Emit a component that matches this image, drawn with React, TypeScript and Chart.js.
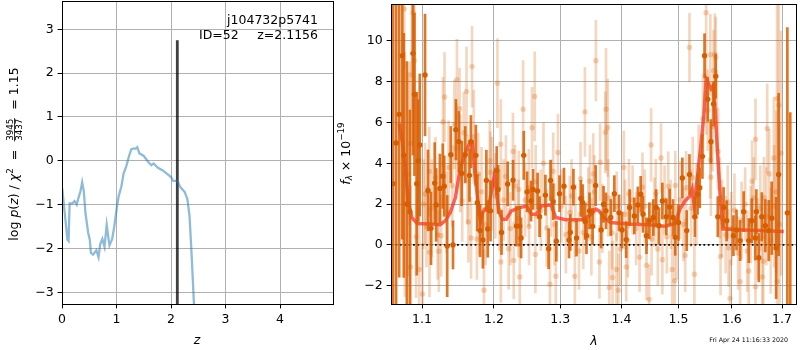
import React, { useEffect, useRef } from "react";
import { Chart, registerables } from "chart.js";

Chart.register(...registerables);

const FONT = '"DejaVu Sans", sans-serif';

// ---------------- left panel: log p(z)
const zGrid = [0.0, 0.006, 0.05, 0.10, 0.12, 0.14, 0.19, 0.23, 0.27, 0.31, 0.34, 0.37, 0.40, 0.43, 0.48, 0.51, 0.53, 0.57, 0.63, 0.67, 0.70, 0.74, 0.78, 0.82, 0.87, 0.92, 0.96, 1.01, 1.04, 1.09, 1.13, 1.18, 1.23, 1.27, 1.31, 1.35, 1.38, 1.42, 1.50, 1.58, 1.64, 1.68, 1.76, 1.85, 1.94, 2.00, 2.04, 2.12, 2.17, 2.25, 2.30, 2.34, 2.37, 2.40, 2.42, 2.44];
const logPz = [-0.63, -0.65, -1.19, -1.80, -1.83, -0.97, -0.97, -0.92, -1.00, -0.81, -0.69, -0.49, -0.69, -1.19, -1.64, -1.80, -2.10, -2.14, -2.04, -2.20, -1.91, -1.78, -1.96, -1.46, -1.93, -1.79, -1.49, -1.03, -0.81, -0.58, -0.29, -0.12, 0.11, 0.26, 0.28, 0.28, 0.31, 0.17, 0.11, -0.02, -0.10, -0.06, -0.16, -0.22, -0.31, -0.37, -0.46, -0.46, -0.60, -0.71, -0.87, -1.26, -1.95, -2.71, -3.24, -4.0];
const zBest = 2.1156;
const zLineTop = 2.75;
const zTicks = [0, 1, 2, 3, 4];
const pzTicks = [-3, -2, -1, 0, 1, 2, 3];
const zMin = 0, zMax = 4.972, pzMin = -3.267, pzMax = 3.646;
const objName = "j104732p5741";
const idText = "ID=52";
const zText = "z=2.1156";

// ---------------- right panel: spectrum
const waveTicks = [1.1, 1.2, 1.3, 1.4, 1.5, 1.6, 1.7];
const fluxTicks = [-2, 0, 2, 4, 6, 8, 10];
const waveMin = 1.0595, waveMax = 1.729, fluxMin = -2.898, fluxMax = 11.81;

const darkWave = [1.062, 1.066, 1.070, 1.074, 1.076, 1.080, 1.084, 1.088, 1.090, 1.093, 1.095, 1.097, 1.104, 1.108, 1.112, 1.117, 1.119, 1.124, 1.128, 1.130, 1.134, 1.139, 1.142, 1.146, 1.150, 1.154, 1.159, 1.165, 1.167, 1.174, 1.176, 1.180, 1.184, 1.189, 1.191, 1.195, 1.204, 1.206, 1.211, 1.220, 1.228, 1.233, 1.238, 1.240, 1.244, 1.249, 1.255, 1.258, 1.265, 1.268, 1.277, 1.282, 1.285, 1.289, 1.294, 1.299, 1.306, 1.314, 1.316, 1.321, 1.326, 1.333, 1.336, 1.340, 1.342, 1.347, 1.352, 1.357, 1.366, 1.370, 1.374, 1.382, 1.388, 1.396, 1.401, 1.408, 1.414, 1.422, 1.428, 1.433, 1.437, 1.443, 1.448, 1.455, 1.460, 1.465, 1.471, 1.478, 1.484, 1.490, 1.494, 1.500, 1.507, 1.515, 1.520, 1.530, 1.535, 1.539, 1.544, 1.548, 1.554, 1.560, 1.565, 1.569, 1.573, 1.584, 1.590, 1.603, 1.609, 1.616, 1.623, 1.633, 1.639, 1.646, 1.648, 1.653, 1.659, 1.666, 1.673, 1.679, 1.688, 1.693, 1.711, 1.717];
const darkFlux = [3.0, 5.0, 6.4, 9.27, 4.39, 2.0, 1.63, 9.39, 7.38, 3.0, 4.13, 4.9, 8.33, 2.67, 0.81, 3.03, 1.96, 2.77, 3.37, 2.88, -0.06, 4.42, 0.0, 5.65, 5.06, 3.5, 4.42, 3.41, 5.06, 4.39, 2.07, 0.7, 0.24, 3.16, 0.78, 1.67, 3.64, 2.72, 0.61, 2.99, 3.17, 0.92, 0.92, 0.34, 4.39, 2.6, 2.15, 2.72, 2.64, 1.38, 2.44, -0.19, 3.16, 2.12, 0.18, 2.51, 2.88, 0.24, 0.61, 2.83, 0.34, 2.28, 2.07, 1.15, 0.45, 1.67, 0.91, 2.91, 0.73, 1.99, 1.67, 1.34, 2.51, 1.57, 0.73, 0.26, 1.83, 1.42, 1.96, 2.48, 1.5, 0.45, 1.18, 1.34, 1.83, 0.94, 2.15, 1.38, 1.86, 1.34, 0.37, 1.1, 3.28, 0.7, 3.45, 1.38, 2.48, 2.8, 4.34, 9.27, 7.14, 5.06, 6.91, 8.27, 1.38, 1.83, 1.18, 0.45, 0.73, 0.21, 1.63, 0.21, 1.18, 0.34, 1.63, -0.63, 1.38, 0.94, 0.7, 1.31, -0.15, 3.45, 1.57, -3.5];
const darkErr = [12, 10, 8, 9, 6, 7, 5, 5, 4, 4.5, 3, 3.5, 3, 2.0, 1.8, 2.0, 1.8, 1.7, 1.6, 1.5, 2.5, 1.4, 1.2, 1.5, 1.5, 1.6, 1.4, 1.3, 1.3, 1.5, 1.4, 1.3, 1.4, 1.5, 1.4, 1.5, 1.2, 1.2, 1.1, 1.1, 1.0, 1.0, 1.0, 1.0, 1.2, 1.0, 1.0, 1.0, 0.9, 1.0, 1.0, 1.0, 1.0, 0.9, 1.0, 0.9, 0.9, 0.9, 0.9, 0.9, 0.9, 0.9, 0.9, 0.9, 0.9, 0.9, 0.9, 1.0, 0.9, 0.9, 0.9, 0.9, 0.9, 0.9, 0.9, 0.9, 0.9, 0.9, 0.9, 0.9, 0.9, 0.9, 0.9, 0.9, 0.9, 0.9, 0.9, 0.9, 0.9, 0.9, 0.9, 0.9, 1.0, 1.0, 1.0, 1.0, 1.0, 1.0, 1.1, 1.1, 1.1, 1.1, 1.1, 1.1, 1.0, 1.0, 1.0, 1.0, 1.0, 1.0, 1.0, 1.1, 1.1, 1.1, 1.1, 1.2, 1.2, 1.3, 1.5, 1.8, 2.5, 4, 9.1, 10];

const lightWave = [1.0766, 1.0774, 1.0817, 1.0837, 1.0849, 1.0867, 1.088, 1.090, 1.0921, 1.0963, 1.1006, 1.1041, 1.1097, 1.110, 1.1226, 1.1257, 1.1282, 1.1304, 1.1466, 1.1475, 1.1511, 1.1548, 1.1608, 1.1635, 1.1672, 1.1686, 1.1755, 1.1773, 1.1856, 1.1939, 1.1949, 1.205, 1.2099, 1.210, 1.2174, 1.2215, 1.2279, 1.229, 1.2365, 1.238, 1.243, 1.2515, 1.2565, 1.2606, 1.2616, 1.279, 1.2841, 1.2891, 1.2931, 1.2965, 1.3152, 1.3233, 1.3324, 1.3368, 1.3395, 1.3476, 1.353, 1.3574, 1.3632, 1.3644, 1.373, 1.3741, 1.3769, 1.3795, 1.385, 1.3915, 1.3948, 1.404, 1.4082, 1.4127, 1.4361, 1.4431, 1.4476, 1.4511, 1.4593, 1.4686, 1.471, 1.4815, 1.4885, 1.493, 1.4942, 1.5122, 1.52, 1.5291, 1.5509, 1.554, 1.5589, 1.5589, 1.56, 1.5649, 1.5673, 1.5691, 1.5735, 1.5782, 1.5935, 1.5964, 1.6161, 1.633, 1.6396, 1.6463, 1.6463, 1.6598, 1.6632, 1.6698, 1.6739, 1.6833, 1.69, 1.69, 1.6934,
  1.102, 1.106, 1.113, 1.118, 1.121, 1.133, 1.136, 1.141, 1.144, 1.152, 1.157, 1.162, 1.171, 1.179, 1.182, 1.188, 1.197, 1.202, 1.208, 1.214, 1.224, 1.231, 1.236, 1.246, 1.252, 1.262, 1.270, 1.274, 1.286, 1.291, 1.302, 1.309, 1.318, 1.324, 1.330, 1.345, 1.350, 1.355, 1.368, 1.378, 1.384, 1.392, 1.398, 1.406, 1.411, 1.419, 1.425, 1.431, 1.440, 1.452, 1.457, 1.463, 1.475, 1.479, 1.486, 1.497, 1.503, 1.509, 1.514, 1.523, 1.526, 1.533, 1.537, 1.545, 1.551, 1.563, 1.571, 1.577, 1.581, 1.588, 1.592, 1.599, 1.605, 1.612, 1.619, 1.626, 1.630, 1.637, 1.643, 1.651, 1.656, 1.662, 1.668, 1.677, 1.684, 1.688, 1.695, 1.698];
const lightFlux = [11.57, 3.45, 3.48, 4.98, -1.08, 8.33, 11.38, 9.03, 0.4, -1.21, -2.41, 2.5, 3.6, -0.36, -0.31, 0.45, 6.03, 7.25, 4.74, 8.1, 6.68, 2.15, 7.52, 1.13, 0.34, 8.74, 0.29, 3.48, -2.22, 4.13, 3.56, 7.93, 4.94, -0.84, 3.37, -0.19, 4.58, -0.76, 2.72, -1.57, 6.65, 2.8, 5.74, 7.28, -0.47, 0.83, -1.93, 3.61, -1.54, 4.53, 1.59, -1.54, 3.24, 0.61, 6.52, 3.12, 3.48, 9.03, -0.84, 4.05, 5.52, 6.65, 5.74, -2.09, -1.6, -1.21, -2.22, 3.8, -1.08, 2.51, 2.83, -1.0, -2.67, 4.9, 2.51, 4.26, -0.73, 2.88, -1.21, -1.76, 2.91, -0.52, 9.68, -1.44, 11.38, 6.6, 9.32, 4.17, 3.32, 8.54, 9.35, 9.19, 4.58, -0.57, -0.15, -2.62, -1.81, -1.28, 3.12, 5.18, -2.05, -1.57, 2.31, 5.71, 3.48, 4.26, 7.17, -1.81, 6.85,
  2.0, 0.9, 1.8, 3.3, 0.5, 1.6, 3.8, 2.9, 5.9, 4.0, 5.5, 3.2, 5.3, 1.5, 2.6, 1.0, 3.0, 2.4, 1.7, 2.2, 0.8, 2.9, 1.3, 2.2, 0.9, 3.1, 1.7, 4.0, 2.3, 1.0, 1.9, 0.5, 2.4, 1.2, -0.3, 2.0, 0.4, 2.6, 1.3, 2.3, 0.6, 1.9, -0.2, 1.5, 0.2, 2.2, 0.8, -0.6, 1.9, 0.3, 1.6, -0.2, 2.2, 0.4, 1.5, 0.1, 2.2, 1.0, 2.8, 1.8, 3.3, 2.0, 3.9, 6.2, 7.4, 5.8, 6.6, 2.3, 1.3, 0.5, 2.1, 0.8, 1.7, -0.4, 1.2, 2.0, -0.3, 1.0, 2.3, 0.3, 1.8, -0.8, 1.4, 0.2, 1.9, 2.6, 1.0, 4.5];
const lightErr = [3.0, 6, 5, 4, 4, 3.5, 3, 3, 3, 3, 2.5, 2.5, 2.2, 2.2, 2.0, 2.0, 2.2, 2.2, 2.2, 2.0, 2.0, 2.0, 2.2, 2.0, 2.0, 2.0, 2.0, 2.0, 2.0, 2.0, 2.0, 2.2, 2.2, 2.0, 2.0, 2.0, 1.9, 1.9, 1.9, 1.9, 2.4, 1.9, 2.0, 2.2, 1.9, 1.9, 1.9, 1.9, 1.9, 1.9, 1.8, 1.8, 1.8, 1.8, 2.2, 1.8, 2.0, 2.0, 1.8, 1.9, 2.0, 3.0, 2.4, 1.8, 1.8, 1.8, 1.8, 1.8, 1.7, 1.7, 1.7, 1.7, 1.7, 1.8, 1.7, 1.7, 1.7, 1.7, 1.7, 1.7, 1.7, 1.8, 1.7, 1.8, 2.0, 2.0, 2.0, 1.9, 1.9, 2.0, 2.0, 2.0, 1.9, 1.9, 1.9, 1.9, 1.9, 1.9, 2.0, 2.0, 2.0, 2.0, 2.0, 2.2, 2.2, 3.0, 5, 3, 7,
  2.2, 2.0, 2.4, 2.0, 2.2, 2.0, 2.3, 2.0, 2.2, 2.4, 2.0, 2.2, 2.3, 2.0, 2.2, 2.0, 2.3, 2.1, 2.0, 2.0, 1.8, 2.0, 1.9, 1.8, 1.9, 1.8, 2.0, 2.0, 1.9, 2.0, 1.8, 1.9, 1.8, 1.8, 1.9, 1.8, 1.9, 1.8, 1.7, 1.9, 1.8, 1.7, 1.8, 1.7, 1.8, 1.7, 1.8, 1.7, 1.8, 1.8, 1.7, 1.8, 1.7, 1.8, 1.7, 1.8, 1.9, 1.8, 1.8, 1.9, 2.0, 2.0, 2.0, 2.2, 2.0, 2.2, 2.0, 2.0, 1.9, 1.9, 1.8, 1.8, 1.8, 1.8, 1.9, 1.8, 2.0, 1.9, 2.0, 2.0, 2.1, 2.2, 2.4, 2.6, 3.0, 4.0, 5.0, 6.0];

const modelWave = [1.070, 1.074, 1.0782, 1.0816, 1.0866, 1.0937, 1.1106, 1.1244, 1.1313, 1.1383, 1.1452, 1.1521, 1.159, 1.1659, 1.1691, 1.1728, 1.1774, 1.1807, 1.1835, 1.1866, 1.1912, 1.1972, 1.2005, 1.203, 1.2069, 1.212, 1.218, 1.2255, 1.238, 1.2481, 1.2556, 1.2631, 1.2706, 1.2856, 1.2931, 1.3088, 1.3357, 1.3493, 1.3574, 1.3627, 1.3708, 1.3817, 1.4122, 1.4471, 1.4762, 1.4937, 1.5025, 1.5116, 1.5207, 1.5249, 1.5285, 1.5345, 1.5418, 1.5467, 1.5509, 1.554, 1.56, 1.5649, 1.568, 1.5735, 1.5782, 1.5826, 1.5873, 1.6229, 1.6563, 1.7036];
const modelFlux = [5.95, 5.06, 3.77, 2.15, 1.34, 1.05, 1.02, 0.99, 1.18, 1.59, 2.31, 3.77, 4.5, 5.06, 5.06, 3.45, 1.99, 1.18, 1.59, 1.75, 1.67, 2.8, 3.37, 2.8, 1.67, 1.26, 1.26, 1.67, 1.83, 1.91, 1.5, 1.5, 1.91, 1.96, 1.34, 1.23, 1.23, 1.5, 1.75, 1.67, 1.34, 1.1, 1.02, 0.99, 0.92, 1.05, 1.75, 2.15, 2.39, 2.72, 1.99, 3.28, 5.06, 6.36, 8.14, 7.98, 7.65, 7.82, 6.52, 4.09, 2.15, 0.78, 0.78, 0.73, 0.70, 0.66];
const timestamp = "Fri Apr 24 11:16:33 2020";

// ---------------- helpers
const minus = (v: number) => (v < 0 ? "\u2212" + Math.abs(v) : String(v));

type Seg = { t?: string; it?: boolean; sz?: number; dy?: number; num?: string; den?: string };

function drawRich(ctx: CanvasRenderingContext2D, segs: Seg[], base: number) {
  const font = (s: Seg) => `${s.it ? "italic " : ""}${s.sz ?? base}px ${FONT}`;
  const widths = segs.map((s) => {
    ctx.font = font(s);
    if (s.num) return Math.max(ctx.measureText(s.num).width, ctx.measureText(s.den || "").width) + 2;
    return ctx.measureText(s.t || "").width;
  });
  const total = widths.reduce((a, b) => a + b, 0);
  let x = -total / 2;
  ctx.fillStyle = "#000";
  ctx.textBaseline = "alphabetic";
  segs.forEach((s, i) => {
    ctx.font = font(s);
    const w = widths[i];
    if (s.num) {
      const sz = s.sz ?? base;
      const bar = -3;
      ctx.textAlign = "center";
      ctx.fillText(s.num, x + w / 2, bar - 1.2);
      ctx.fillText(s.den || "", x + w / 2, bar + 1.0 + sz * 0.73);
      ctx.fillRect(x + 0.5, bar - 0.4, w - 1, 0.8);
      ctx.textAlign = "left";
    } else {
      ctx.textAlign = "left";
      ctx.fillText(s.t || "", x, s.dy ?? 0);
    }
    x += w;
  });
}

const framePlugin = {
  id: "frame",
  afterDatasetsDraw(chart: any) {
    const { ctx, chartArea: a } = chart;
    ctx.save();
    ctx.strokeStyle = "#000";
    ctx.lineWidth = 1;
    const l = Math.round(a.left) + 0.5, r = Math.round(a.right) + 0.5;
    const t = Math.round(a.top) + 0.5, b = Math.round(a.bottom) + 0.5;
    ctx.strokeRect(l, t, r - l, b - t);
    ctx.restore();
  },
};

const errorBarPlugin = {
  id: "errbars",
  beforeDatasetDraw(chart: any, args: any) {
    const ds = chart.data.datasets[args.index];
    if (!ds.errors) return;
    const { ctx, chartArea: a } = chart;
    const xs = chart.scales.x, ys = chart.scales.y;
    ctx.save();
    ctx.beginPath();
    ctx.rect(a.left, a.top, a.right - a.left, a.bottom - a.top);
    ctx.clip();
    ctx.strokeStyle = ds.errColor;
    ctx.lineWidth = ds.errWidth;
    ctx.lineCap = "butt";
    ds.data.forEach((p: any, i: number) => {
      const e = ds.errors[i];
      const px = xs.getPixelForValue(p.x);
      ctx.beginPath();
      ctx.moveTo(px, ys.getPixelForValue(p.y - e));
      ctx.lineTo(px, ys.getPixelForValue(p.y + e));
      ctx.stroke();
    });
    ctx.restore();
  },
};

function axis(min: number, max: number, ticks: number[], fmt: (v: number) => string, fit: (s: any) => void, type = "linear") {
  return {
    type,
    min,
    max,
    bounds: "data",
    grid: { color: "#b0b0b0", lineWidth: 1, tickColor: "#000", tickLength: 4.4, tickWidth: 1, drawTicks: true },
    border: { display: false },
    ticks: {
      color: "#000",
      font: { family: FONT, size: 12.5 },
      padding: 4,
      autoSkip: false,
      maxRotation: 0,
      callback: (v: any) => fmt(Number(v)),
    },
    afterBuildTicks: (s: any) => {
      s.ticks = ticks.map((v) => ({ value: v }));
    },
    afterFit: fit,
  } as any;
}

const yFit = (w: number) => (s: any) => {
  s.width = w;
  s.paddingTop = 0;
  s.paddingBottom = 0;
};
const xFit = (h: number) => (s: any) => {
  s.height = h;
  s.paddingLeft = 0;
  s.paddingRight = 0;
};

export default function App() {
  const leftRef = useRef<HTMLCanvasElement>(null);
  const rightRef = useRef<HTMLCanvasElement>(null);

  useEffect(() => {
    const leftText = {
      id: "leftText",
      afterDraw(chart: any) {
        const ctx = chart.ctx as CanvasRenderingContext2D;
        ctx.save();
        ctx.fillStyle = "#000";
        ctx.font = `12.5px ${FONT}`;
        ctx.textBaseline = "alphabetic";
        ctx.textAlign = "right";
        ctx.fillText(objName, 318, 24);
        ctx.fillText(zText, 318, 39);
        ctx.textAlign = "left";
        ctx.fillText(idText, 199, 39);
        ctx.font = `italic 12.5px ${FONT}`;
        ctx.textAlign = "center";
        ctx.fillText("z", 197, 344);
        ctx.restore();

        ctx.save();
        ctx.translate(17.5, 154);
        ctx.rotate(-Math.PI / 2);
        drawRich(ctx, [
          { t: "log " },
          { t: "p", it: true },
          { t: "(" },
          { t: "z", it: true },
          { t: ") / " },
          { t: "\u03c7", it: true },
          { t: "2", sz: 8.75, dy: -5 },
          { t: "  =  " },
          { num: "3945", den: "3437", sz: 8.75 },
          { t: "  = 1.15" },
        ], 12.5);
        ctx.restore();
      },
    };

    const rightText = {
      id: "rightText",
      afterDraw(chart: any) {
        const ctx = chart.ctx as CanvasRenderingContext2D;
        ctx.save();
        ctx.fillStyle = "#000";
        ctx.font = `italic 12.5px ${FONT}`;
        ctx.textAlign = "center";
        ctx.textBaseline = "alphabetic";
        ctx.fillText("\u03bb", 258, 345);
        ctx.font = `6.3px ${FONT}`;
        ctx.textAlign = "right";
        ctx.fillText(timestamp, 452, 342);
        ctx.restore();

        ctx.save();
        ctx.translate(13.5, 153.5);
        ctx.rotate(-Math.PI / 2);
        drawRich(ctx, [
          { t: "f", it: true },
          { t: "\u03bb", it: true, sz: 8.75, dy: 2.5 },
          { t: " \u00d7 10" },
          { t: "\u221219", sz: 8.75, dy: -5.5 },
        ], 12.5);
        ctx.restore();
      },
    };

    const left = new Chart(leftRef.current as HTMLCanvasElement, {
      type: "scatter",
      data: {
        datasets: [
          {
            data: zGrid.map((z, i) => ({ x: z, y: logPz[i] })),
            showLine: true,
            borderColor: "rgba(31,119,180,0.5)",
            borderWidth: 2.3,
            pointRadius: 0,
            tension: 0,
            clip: 0,
          },
          {
            data: [{ x: zBest, y: -10 }, { x: zBest, y: zLineTop }],
            showLine: true,
            borderColor: "rgba(0,0,0,0.75)",
            borderWidth: 2.8,
            pointRadius: 0,
            clip: 0,
          },
        ],
      } as any,
      options: {
        animation: false,
        responsive: false,
        events: [],
        layout: { padding: { top: 1, right: 3, left: 0, bottom: 0 } },
        plugins: { legend: { display: false }, tooltip: { enabled: false } },
        scales: {
          x: axis(zMin, zMax, zTicks, minus, xFit(46)),
          y: axis(pzMin, pzMax, pzTicks, minus, yFit(62)),
        },
      } as any,
      plugins: [framePlugin, leftText],
    });

    const right = new Chart(rightRef.current as HTMLCanvasElement, {
      type: "scatter",
      data: {
        datasets: [
          {
            data: lightWave.map((w, i) => ({ x: w, y: lightFlux[i] })),
            errors: lightErr,
            errColor: "rgba(217,95,2,0.25)",
            errWidth: 2.7,
            showLine: false,
            pointRadius: 2.7,
            pointBackgroundColor: "rgba(217,95,2,0.27)",
            pointBorderWidth: 0,
            clip: 0,
          },
          {
            data: darkWave.map((w, i) => ({ x: w, y: darkFlux[i] })),
            errors: darkErr,
            errColor: "rgba(217,95,2,0.85)",
            errWidth: 2.7,
            showLine: false,
            pointRadius: 2.7,
            pointBackgroundColor: "rgb(214,94,0)",
            pointBorderWidth: 0,
            clip: 0,
          },
          {
            data: modelWave.map((w, i) => ({ x: w, y: modelFlux[i] })),
            showLine: true,
            borderColor: "rgba(255,20,20,0.68)",
            borderWidth: 3.5,
            pointRadius: 0,
            tension: 0,
            clip: 0,
          },
          {
            data: [{ x: waveMin, y: 0 }, { x: waveMax, y: 0 }],
            showLine: true,
            borderColor: "#000",
            borderWidth: 1.8,
            borderDash: [1.8, 2.6],
            pointRadius: 0,
            clip: 0,
          },
        ],
      } as any,
      options: {
        animation: false,
        responsive: false,
        events: [],
        layout: { padding: { top: 1, right: 1, left: 0, bottom: 0 } },
        plugins: { legend: { display: false }, tooltip: { enabled: false } },
        scales: {
          x: axis(waveMin, waveMax, waveTicks, (v) => v.toFixed(1), xFit(46), "logarithmic"),
          y: axis(fluxMin, fluxMax, fluxTicks, minus, yFit(55)),
        },
      } as any,
      plugins: [errorBarPlugin, framePlugin, rightText],
    });

    return () => {
      left.destroy();
      right.destroy();
    };
  }, []);

  return (
    <div style={{ position: "fixed", left: 0, top: 0, width: 800, height: 350, background: "#fff" }}>
      <canvas ref={leftRef} width={336} height={350} style={{ position: "absolute", left: 0, top: 0, width: 336, height: 350 }} />
      <canvas ref={rightRef} width={464} height={350} style={{ position: "absolute", left: 336, top: 0, width: 464, height: 350 }} />
    </div>
  );
}
